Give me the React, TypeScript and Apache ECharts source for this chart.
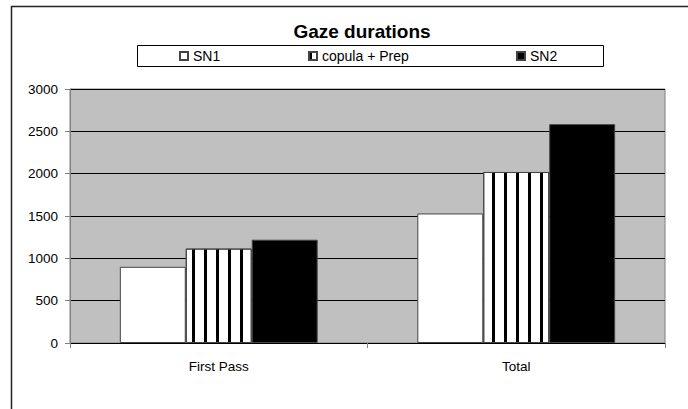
import React, { useEffect, useRef } from "react";
import * as echarts from "echarts";

const categories = ["First Pass", "Total"];
const seriesNames = ["SN1", "copula + Prep", "SN2"];
const sn1Values = [900, 1530];
const copulaValues = [1115, 2020];
const sn2Values = [1220, 2585];
const yTicks = { min: 0, max: 3000, interval: 500 };

const FONT = "Liberation Sans, Arial, sans-serif";

export default function App() {
  const ref = useRef<HTMLDivElement>(null);
  useEffect(() => {
    document.body.style.margin = "0";
    const chart = echarts.init(ref.current!, null, { renderer: "svg" });
    const legendCommon = {
      orient: "horizontal",
      top: 49,
      padding: 0,
      itemWidth: 8,
      itemHeight: 8,
      icon: "rect",
      textStyle: { fontSize: 14, color: "#000", fontFamily: FONT },
      selectedMode: false,
    };
    chart.setOption({
      animation: false,
      backgroundColor: "#fff",
      textStyle: { fontFamily: FONT },
      title: {
        text: "Gaze durations",
        left: 357,
        textAlign: "center",
        top: 17,
        textStyle: { fontSize: 19, fontWeight: "bold", color: "#000", fontFamily: FONT },
      },
      legend: [
        { ...legendCommon, left: 179, data: [seriesNames[0]] },
        { ...legendCommon, left: 308, data: [seriesNames[1]] },
        { ...legendCommon, left: 516, data: [seriesNames[2]] },
      ],
      graphic: [
        {
          type: "polyline",
          shape: { points: [[11.5, 420], [11.5, 6.5], [700, 6.5]] },
          style: { stroke: "#222", lineWidth: 1.5, fill: null },
          silent: true,
        },
        {
          type: "rect",
          shape: { x: 137.5, y: 45.5, width: 466, height: 21 },
          style: { stroke: "#000", lineWidth: 1, fill: null },
          silent: true,
          z: -1,
        },
      ],
      grid: {
        left: 70,
        right: 23,
        top: 89,
        bottom: 66,
        show: true,
        backgroundColor: "#C0C0C0",
        borderColor: "#808080",
        borderWidth: 1,
      },
      xAxis: {
        type: "category",
        data: categories,
        axisLine: { show: true, lineStyle: { color: "#000", width: 1 } },
        axisTick: { show: true, alignWithLabel: false, length: 5, lineStyle: { color: "#808080" } },
        axisLabel: { color: "#000", fontSize: 13.5, margin: 16, fontFamily: FONT },
        splitLine: { show: false },
      },
      yAxis: {
        type: "value",
        min: yTicks.min,
        max: yTicks.max,
        interval: yTicks.interval,
        axisLine: { show: true, lineStyle: { color: "#808080", width: 1 } },
        axisTick: { show: true, length: 5, lineStyle: { color: "#808080" } },
        axisLabel: {
          color: "#000",
          fontSize: 13.5,
          margin: 12,
          fontFamily: FONT,
          formatter: (v: number) => String(v),
        },
        splitLine: { show: true, lineStyle: { color: "#000", width: 1 } },
      },
      series: [
        {
          name: seriesNames[0],
          type: "bar",
          data: sn1Values,
          barGap: "0%",
          barCategoryGap: "33.5%",
          itemStyle: { color: "#fff", borderColor: "#444", borderWidth: 1 },
        },
        {
          name: seriesNames[1],
          type: "bar",
          data: copulaValues,
          barGap: "0%",
          barCategoryGap: "33.5%",
          itemStyle: {
            color: "#fff",
            borderColor: "#444",
            borderWidth: 1,
            decal: {
              symbol: "rect",
              symbolSize: 1,
              color: "#000",
              dashArrayX: [2.5, 8.5],
              dashArrayY: [1, 0],
              rotation: 0,
            },
          },
        },
        {
          name: seriesNames[2],
          type: "bar",
          data: sn2Values,
          barGap: "0%",
          barCategoryGap: "33.5%",
          itemStyle: { color: "#000", borderColor: "#444", borderWidth: 1 },
        },
      ],
    });
    return () => chart.dispose();
  }, []);
  return <div ref={ref} style={{ width: 688, height: 409 }} />;
}
